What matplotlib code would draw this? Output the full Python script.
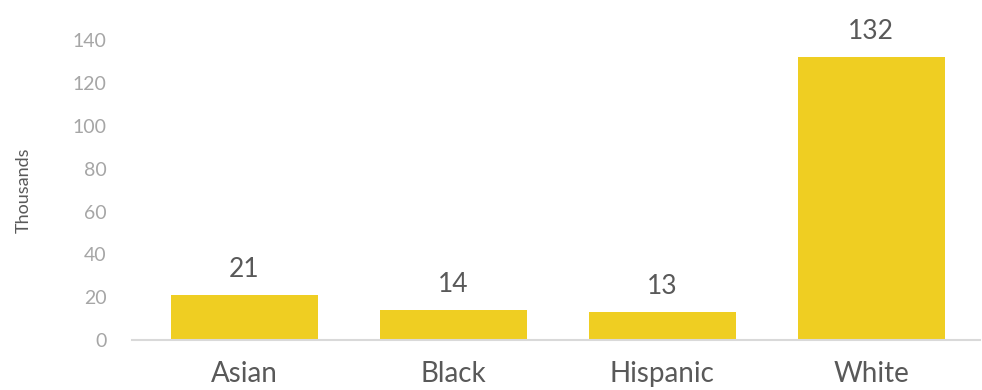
import matplotlib
matplotlib.use("Agg")
import matplotlib.pyplot as plt

groups = ["Asian", "Black", "Hispanic", "White"]
values = [21, 14, 13, 132]
yticks = [0, 20, 40, 60, 80, 100, 120, 140]

plt.rcParams['font.family'] = ['Lato', 'DejaVu Sans']

fig = plt.figure(figsize=(9.82, 3.90), dpi=100)
ax = fig.add_axes([0.134, 0.128, 0.864, 0.769])

x = range(len(groups))
bars = ax.bar(x, values, width=0.7, color="#EFCE22", zorder=2)

# value labels above bars
for xi, v in zip(x, values):
    ax.text(xi, v + 6, str(v), ha="center", va="bottom", fontsize=19,
            color="#595959", clip_on=False)

ax.set_xlim(-0.54, 3.52)
ax.set_ylim(0, 140)
ax.set_yticks(yticks)
ax.set_xticks(list(x))
ax.set_xticklabels(groups, fontsize=20, color="#595959")
ax.tick_params(axis="y", labelsize=14, labelcolor="#a6a6a6", length=0, pad=18)
ax.tick_params(axis="x", length=0, pad=15)

for s in ["top", "right", "left"]:
    ax.spines[s].set_visible(False)
ax.spines["bottom"].set_color("#d9d9d9")
ax.spines["bottom"].set_linewidth(1.5)

ax.set_ylabel("Thousands", fontsize=13, color="#595959")
ax.yaxis.set_label_coords(-0.118, 0.5)

fig.savefig("out.png", dpi=100)
